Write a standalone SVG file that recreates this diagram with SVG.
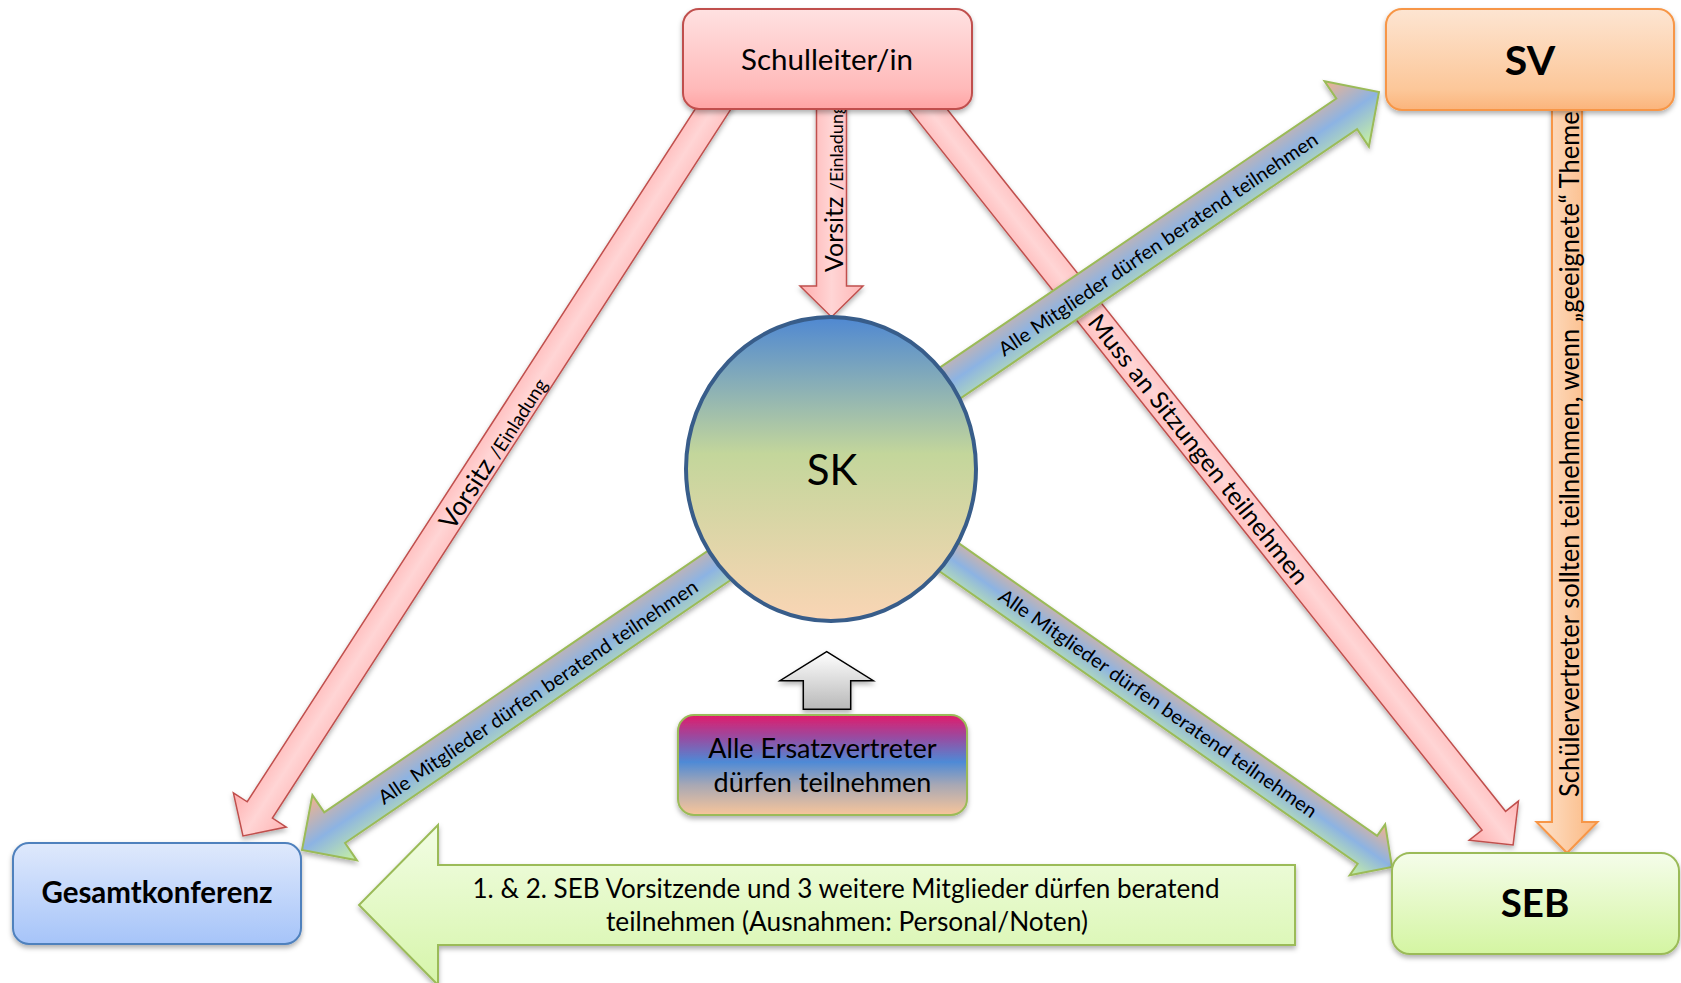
<svg xmlns="http://www.w3.org/2000/svg" width="1681" height="983" viewBox="0 0 1681 983">
<defs>
  <linearGradient id="gRedBox" x1="0" y1="0" x2="0" y2="1">
    <stop offset="0" stop-color="#ffe1e1"/><stop offset="0.8" stop-color="#ffb9b9"/><stop offset="1" stop-color="#ffa4a4"/>
  </linearGradient>
  <linearGradient id="gSV" x1="0" y1="0" x2="0" y2="1">
    <stop offset="0" stop-color="#fde5d2"/><stop offset="0.8" stop-color="#fcc799"/><stop offset="1" stop-color="#fbb47b"/>
  </linearGradient>
  <linearGradient id="gSEB" x1="0" y1="0" x2="0" y2="1">
    <stop offset="0" stop-color="#f5fdea"/><stop offset="1" stop-color="#d4f5a2"/>
  </linearGradient>
  <linearGradient id="gGK" x1="0" y1="0" x2="0" y2="1">
    <stop offset="0" stop-color="#dfe9fc"/><stop offset="1" stop-color="#a6c4f9"/>
  </linearGradient>
  <linearGradient id="gErs" x1="0" y1="0" x2="0" y2="1">
    <stop offset="0" stop-color="#e11c6a"/><stop offset="0.22" stop-color="#9a4aa0"/><stop offset="0.47" stop-color="#4e8ad6"/><stop offset="0.7" stop-color="#a8a8b4"/><stop offset="1" stop-color="#f8c59a"/>
  </linearGradient>
  <linearGradient id="gSK" x1="0" y1="0" x2="0" y2="1">
    <stop offset="0" stop-color="#4f88d2"/><stop offset="0.45" stop-color="#c3d69b"/><stop offset="1" stop-color="#fad5b5"/>
  </linearGradient>
  <linearGradient id="gRedArrow" x1="0" y1="0" x2="0" y2="1">
    <stop offset="0" stop-color="#ffb5b5"/><stop offset="0.5" stop-color="#ffd5d5"/><stop offset="1" stop-color="#ffadad"/>
  </linearGradient>
  <linearGradient id="gOrange" x1="0" y1="0" x2="1" y2="0">
    <stop offset="0" stop-color="#fde3cd"/><stop offset="1" stop-color="#fbb77f"/>
  </linearGradient>
  <linearGradient id="gMixA" x1="0" y1="0" x2="0" y2="1">
    <stop offset="0" stop-color="#f2b38c"/><stop offset="0.5" stop-color="#8cb3e3"/><stop offset="1" stop-color="#c9f3a0"/>
  </linearGradient>
  <linearGradient id="gMixB" x1="0" y1="0" x2="0" y2="1">
    <stop offset="0" stop-color="#c9f3a0"/><stop offset="0.5" stop-color="#8cb3e3"/><stop offset="1" stop-color="#f2b38c"/>
  </linearGradient>
  <linearGradient id="gBig" x1="0" y1="0" x2="0" y2="1">
    <stop offset="0" stop-color="#f2fde4"/><stop offset="1" stop-color="#d6f5aa"/>
  </linearGradient>
  <linearGradient id="gGray" x1="0" y1="0" x2="0" y2="1">
    <stop offset="0" stop-color="#ffffff"/><stop offset="1" stop-color="#b8b8b8"/>
  </linearGradient>
  <filter id="sh" x="-10%" y="-10%" width="125%" height="130%">
    <feDropShadow dx="0" dy="3" stdDeviation="2.5" flood-color="#000" flood-opacity="0.3"/>
  </filter>
</defs>
<style>
  .t{font-family:Lato,'Liberation Sans',sans-serif;fill:#000}
  .b{font-weight:bold}
  .red{fill:url(#gRedArrow);stroke:#c0504d;stroke-width:1.5}
  .mixA{fill:url(#gMixA);stroke:#9bbb59;stroke-width:2}
  .mixB{fill:url(#gMixB);stroke:#9bbb59;stroke-width:2}
  .box{stroke-width:2}
</style>

<g id="connectors">
  <!-- Schulleiter -> SK -->
  <g id="c-sl-sk">
    <g filter="url(#sh)"><polygon class="red" transform="translate(831.5,100) rotate(90)" points="0,-15 186,-15 186,-31.5 217,0 186,31.5 186,15 0,15"/></g>
    <text class="t" transform="translate(843,272) rotate(-90)" font-size="25"><tspan>Vorsitz </tspan><tspan font-size="18">/Einladung</tspan></text>
  </g>
  <!-- Schulleiter -> Gesamtkonferenz -->
  <g id="c-sl-gk">
    <g filter="url(#sh)"><polygon class="red" transform="translate(722.2,94.9) rotate(122.89)" points="0,-15 851.5,-15 851.5,-31.5 882.5,0 851.5,31.5 851.5,15 0,15"/></g>
    <text class="t" transform="translate(493,453) rotate(-57.11)" x="0" y="9" text-anchor="middle" font-size="26"><tspan>Vorsitz </tspan><tspan font-size="19">/Einladung</tspan></text>
  </g>
  <!-- Schulleiter -> SEB -->
  <g id="c-sl-seb">
    <g filter="url(#sh)"><polygon class="red" transform="translate(917.3,95.9) rotate(51.5)" points="0,-15 926.1,-15 926.1,-31.5 957.1,0 926.1,31.5 926.1,15 0,15"/></g>
    <text class="t" transform="translate(917.3,95.9) rotate(51.5)" x="451.7" y="0" dy="0.35em" text-anchor="middle" font-size="24.5" textLength="337" lengthAdjust="spacingAndGlyphs">Muss an Sitzungen teilnehmen</text>
  </g>
  <!-- SV -> SEB -->
  <g id="c-sv-seb">
    <g filter="url(#sh)"><polygon fill="url(#gOrange)" stroke="#f79646" stroke-width="2" points="1552,100 1552,822 1536.5,822 1567,853 1597.5,822 1582,822 1582,100"/></g>
    <text class="t" transform="translate(1579,797) rotate(-90)" font-size="26" textLength="700" lengthAdjust="spacingAndGlyphs">Schülervertreter sollten teilnehmen, wenn „geeignete“ Themen</text>
  </g>
  <!-- SK -> SV -->
  <g id="c-sk-sv">
    <g filter="url(#sh)"><polygon class="mixA" transform="translate(919.9,403.5) rotate(-34.16)" points="0,-18.5 515.8,-18.5 515.8,-39.5 554.8,0 515.8,39.5 515.8,18.5 0,18.5"/></g>
    <text class="t" transform="translate(919.9,403.5) rotate(-34.16)" x="286.5" y="2" dy="0.35em" text-anchor="middle" font-size="19.5" textLength="381" lengthAdjust="spacingAndGlyphs">Alle Mitglieder dürfen beratend teilnehmen</text>
  </g>
  <!-- SK -> SEB -->
  <g id="c-sk-seb">
    <g filter="url(#sh)"><polygon class="mixA" transform="translate(916.7,534.6) rotate(34.97)" points="0,-17 550,-17 550,-31 580,0 550,31 550,17 0,17"/></g>
    <text class="t" transform="translate(916.7,534.6) rotate(34.97)" x="294.4" y="0" dy="0.35em" text-anchor="middle" font-size="19.5" textLength="383" lengthAdjust="spacingAndGlyphs">Alle Mitglieder dürfen beratend teilnehmen</text>
  </g>
  <!-- SK -> Gesamtkonferenz -->
  <g id="c-sk-gk">
    <g filter="url(#sh)"><polygon class="mixB" transform="translate(748.5,545.5) rotate(145.71)" points="0,-18.5 500.9,-18.5 500.9,-39.5 540.4,0 500.9,39.5 500.9,18.5 0,18.5"/></g>
    <text class="t" transform="translate(538,692) rotate(-34.29)" x="0" y="0" dy="0.35em" text-anchor="middle" font-size="19.5" textLength="382" lengthAdjust="spacingAndGlyphs">Alle Mitglieder dürfen beratend teilnehmen</text>
  </g>
  <!-- Ersatzvertreter -> SK -->
  <g id="c-ers-sk">
    <g filter="url(#sh)"><polygon fill="url(#gGray)" stroke="#000" stroke-width="1.5" points="826.7,651.7 873.3,680.7 850.7,680.7 850.7,709.3 803.3,709.3 803.3,680.7 780,680.7"/></g>
  </g>
  <!-- SEB -> Gesamtkonferenz (big block arrow) -->
  <g id="c-seb-gk">
    <g filter="url(#sh)"><polygon fill="url(#gBig)" stroke="#9bbb59" stroke-width="2" points="1295,865 438,865 438,825 359,905 438,985 438,945 1295,945"/></g>
    <text class="t" x="846" y="898" text-anchor="middle" font-size="26" textLength="747" lengthAdjust="spacingAndGlyphs">1. &amp; 2. SEB Vorsitzende und 3 weitere Mitglieder dürfen beratend</text>
    <text class="t" x="847" y="931" text-anchor="middle" font-size="26" textLength="482" lengthAdjust="spacingAndGlyphs">teilnehmen (Ausnahmen: Personal/Noten)</text>
  </g>
</g>

<g id="node-schulleiter">
  <rect class="box" x="683" y="9" width="289" height="100" rx="16" fill="url(#gRedBox)" stroke="#c0504d" filter="url(#sh)"/>
  <text class="t" x="827" y="70" text-anchor="middle" font-size="29.5">Schulleiter/in</text>
</g>
<g id="node-sv">
  <rect class="box" x="1386" y="9" width="288" height="101" rx="16" fill="url(#gSV)" stroke="#f79646" filter="url(#sh)"/>
  <text class="t b" x="1530" y="75" text-anchor="middle" font-size="41">SV</text>
</g>
<g id="node-seb">
  <rect class="box" x="1392" y="853" width="287" height="101" rx="18" fill="url(#gSEB)" stroke="#9bbb59" filter="url(#sh)"/>
  <text class="t b" x="1535" y="917" text-anchor="middle" font-size="38.5">SEB</text>
</g>
<g id="node-gesamtkonferenz">
  <rect class="box" x="13" y="843" width="288" height="101" rx="16" fill="url(#gGK)" stroke="#4f81bd" filter="url(#sh)"/>
  <text class="t b" x="157" y="903" text-anchor="middle" font-size="29.5">Gesamtkonferenz</text>
</g>
<g id="node-sk">
  <ellipse cx="831" cy="469" rx="145" ry="152" fill="url(#gSK)" stroke="#385d8a" stroke-width="4"/>
  <text class="t" x="832" y="485" text-anchor="middle" font-size="42">SK</text>
</g>
<g id="node-ersatz">
  <rect class="box" x="678" y="715" width="289" height="100" rx="16" fill="url(#gErs)" stroke="#9bbb59" filter="url(#sh)"/>
  <text class="t" x="822.5" y="758" text-anchor="middle" font-size="27">Alle Ersatzvertreter</text>
  <text class="t" x="822.5" y="792" text-anchor="middle" font-size="27">dürfen teilnehmen</text>
</g>
</svg>
